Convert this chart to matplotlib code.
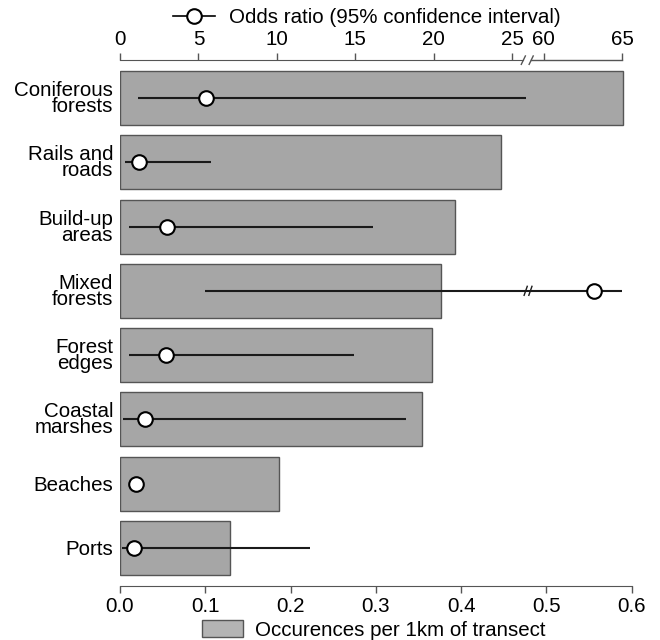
import numpy as np
import matplotlib
matplotlib.use("Agg")
import matplotlib.pyplot as plt
from matplotlib.lines import Line2D
from matplotlib.patches import Patch

plt.rcParams['font.family'] = ['Liberation Sans', 'DejaVu Sans']
plt.rcParams['font.size'] = 14.8

# data, top to bottom
categories = ['Coniferous\nforests', 'Rails and\nroads', 'Build-up\nareas', 'Mixed\nforests',
              'Forest\nedges', 'Coastal\nmarshes', 'Beaches', 'Ports']
occurrences = [0.590, 0.447, 0.393, 0.376, 0.366, 0.354, 0.187, 0.129]
odds = [5.5, 1.2, 3.0, 63.2, 2.95, 1.6, 1.0, 0.9]
ci_low = [1.15, 0.3, 0.6, 5.4, 0.6, 0.2, 0.7, 0.1]
ci_high = [25.9, 5.8, 16.1, 65.0, 14.9, 18.2, 1.3, 12.1]

odds_ticks = [0, 5, 10, 15, 20, 25, 60, 65]
occ_ticks = [0.0, 0.1, 0.2, 0.3, 0.4, 0.5, 0.6]

# broken top axis: values above the gap are shifted down
GAP_LO, GAP_HI, SHIFT = 25.7, 26.2, 33


def to_axis(v):
    v = np.asarray(v, dtype=float)
    return np.where(v > 26, v - SHIFT, v)


AX_COL = '#555555'

fig = plt.figure(figsize=(6.6, 6.4), dpi=100)
ax = fig.add_axes([0.1818, 0.0848, 0.957 - 0.1818, 0.906 - 0.0848])

y = np.arange(len(categories))
ax.barh(y, occurrences, height=0.84, color='#a6a6a6', edgecolor=AX_COL, linewidth=1, zorder=1)
ax.set_ylim(len(categories) - 1 + 0.59, -0.59)
ax.set_yticks(y)
ax.set_yticklabels(categories, linespacing=0.8)
ax.tick_params(axis='y', length=0, pad=5)
ax.set_xlim(0, 0.6)
ax.set_xticks(occ_ticks)
ax.set_xticklabels([f"{t:.1f}" for t in occ_ticks])
ax.tick_params(axis='x', direction='out', length=5, width=1, color=AX_COL, pad=3)
for s in ['top', 'left', 'right']:
    ax.spines[s].set_visible(False)
ax.spines['bottom'].set_bounds(0, 0.6)
ax.spines['bottom'].set_color(AX_COL)

# odds ratio axis on top
ax2 = ax.twiny()
ax2.set_xlim(0, 32.6)
ax2.set_xticks(to_axis(odds_ticks))
ax2.set_xticklabels([str(t) for t in odds_ticks])
ax2.tick_params(axis='x', direction='out', length=5, width=1, color=AX_COL, pad=3)
for s in ['bottom', 'left', 'right']:
    ax2.spines[s].set_visible(False)
ax2.spines['top'].set_bounds(0, GAP_LO)
ax2.spines['top'].set_color(AX_COL)
xt = ax2.get_xaxis_transform()
ax2.plot([GAP_HI, 32], [1, 1], color=AX_COL, lw=1, transform=xt, clip_on=False)
for g in (GAP_LO, GAP_HI):
    ax2.plot([g - 0.13, g + 0.13], [0.992, 1.008], color=AX_COL, lw=1, transform=xt, clip_on=False)

# confidence intervals and point estimates
lo = to_axis(ci_low)
hi = to_axis(ci_high)
od = to_axis(odds)
ax2.hlines(y, lo, hi, color='#1a1a1a', lw=1.5, zorder=3)
for i in range(len(categories)):
    if ci_high[i] > 26 and ci_low[i] < 26:
        for g in (25.85, 26.15):
            ax2.plot([g - 0.1, g + 0.1], [y[i] + 0.07, y[i] - 0.07], color='#1a1a1a', lw=1, zorder=4)
ax2.plot(od, y, 'o', ms=10.5, mfc='white', mec='black', mew=1.5, ls='none', zorder=5)

# legends
h_odds = Line2D([], [], color='black', lw=1.2, marker='o', ms=10.5, mfc='white', mec='black', mew=1.5)
fig.legend(handles=[h_odds], labels=['Odds ratio (95% confidence interval)'], loc='center',
           bbox_to_anchor=(0.556, 0.972), frameon=False, handlelength=2.0, handletextpad=0.7,
           borderpad=0, borderaxespad=0)
h_occ = Patch(facecolor='#b4b4b4', edgecolor=AX_COL, linewidth=1)
fig.legend(handles=[h_occ], labels=['Occurences per 1km of transect'], loc='center',
           bbox_to_anchor=(0.566, 0.016), frameon=False, handlelength=2.0, handleheight=0.9,
           handletextpad=0.58, borderpad=0, borderaxespad=0)

fig.savefig('out.png', dpi=100)
